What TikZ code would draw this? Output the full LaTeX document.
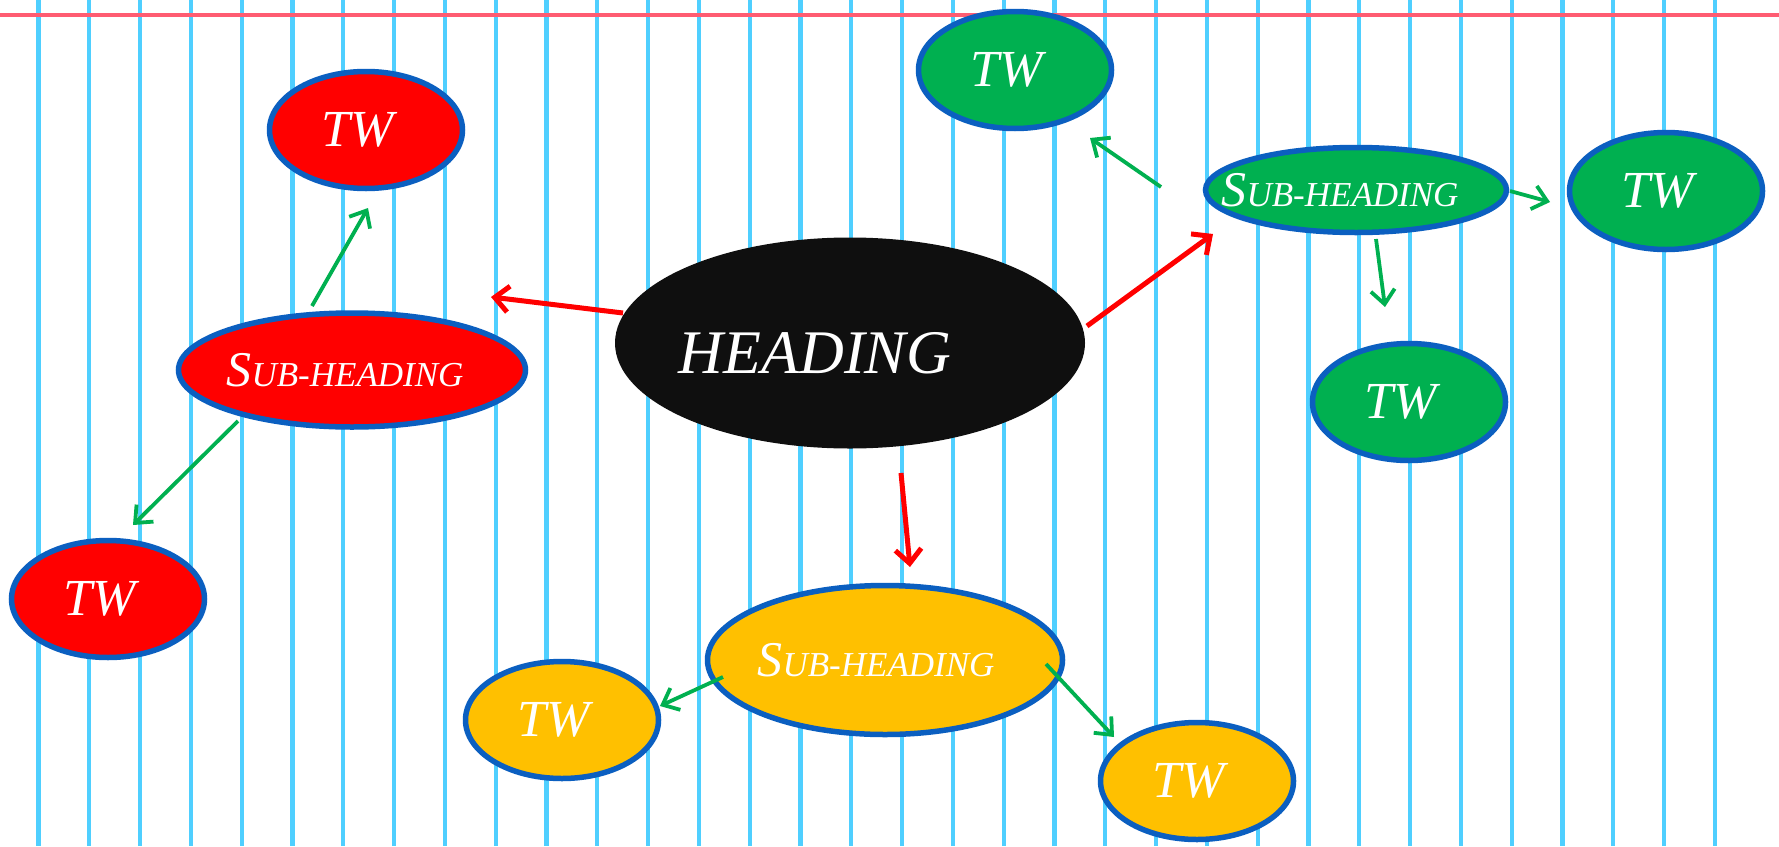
\documentclass[tikz,border=0pt]{standalone}
\usepackage{fontspec}
\setmainfont{Liberation Serif}
\usetikzlibrary{shapes.geometric,arrows.meta}
\definecolor{gridblue}{HTML}{4FCFFF}
\definecolor{topred}{HTML}{FF5C72}
\definecolor{rimblue}{HTML}{0B5FC0}
\definecolor{mmred}{HTML}{FF0000}
\definecolor{mmgreen}{HTML}{00B050}
\definecolor{mmyellow}{HTML}{FFC000}
\definecolor{headblack}{HTML}{0F0F0F}
\newcommand\subhd[1]{\makebox[0pt]{\hspace*{#1}\fontsize{50}{50}\selectfont S\fontsize{35}{35}\selectfont UB-HEADING}}
\newcommand\twtxt{\makebox[0pt]{\hspace*{-16pt}TW}}
\tikzset{
  gridline/.style={draw=gridblue, line width=4.2pt},
  topline/.style={draw=topred, line width=4.8pt},
  bubble/.style n args={3}{ellipse, draw=rimblue, line width=5.5pt, fill=#1,
    minimum width=#2, minimum height=#3, inner sep=0pt, text=white,
    font=\itshape\fontsize{52}{52}\selectfont},
  twnode/.style={bubble={#1}{193pt}{117pt}},
  headnode/.style={ellipse, fill=headblack, minimum width=470pt, minimum height=211pt, inner sep=0pt},
  mainarrow/.style={draw=mmred, line width=5pt, -{Straight Barb[length=14pt,width=26pt,line width=5pt]}},
  subarrow/.style={draw=mmgreen, line width=3.8pt, -{Straight Barb[length=14pt,width=24pt,line width=3.8pt]}},
}
\begin{document}
\begin{tikzpicture}[x=1pt,y=-1pt]
\useasboundingbox (0,0) rectangle (1779,846);
\fill[white] (0,0) rectangle (1779,846);
\foreach \i in {0,...,33} \draw[gridline] ({38.5+50.8*\i},0) -- ({38.5+50.8*\i},846);
\draw[topline] (0,15) -- (1779,15);

% heading
\node[headnode, label={[text=white, font=\itshape\fontsize{62}{62}\selectfont, xshift=-35pt, yshift=-10pt]center:HEADING}] (head) at (850,343) {};

% sub-headings
\node[bubble={mmred}{347pt}{114pt}] (rsub) at (352,370) {\subhd{-14pt}};
\node[bubble={mmgreen}{301pt}{85pt}] (gsub) at (1356,190) {\subhd{-32pt}};
\node[bubble={mmyellow}{355pt}{149pt}] (ysub) at (885,660) {\subhd{-18pt}};

% TW bubbles
\node[twnode=mmred] (rtw1) at (366,130) {\twtxt};
\node[twnode=mmred] (rtw2) at (108,599) {\twtxt};
\node[twnode=mmgreen] (gtw1) at (1015,70) {\twtxt};
\node[twnode=mmgreen] (gtw2) at (1666,191) {\twtxt};
\node[twnode=mmgreen] (gtw3) at (1409,402) {\twtxt};
\node[twnode=mmyellow] (ytw1) at (562,720) {\twtxt};
\node[twnode=mmyellow] (ytw2) at (1197,781) {\twtxt};

% red arrows
\draw[mainarrow] ([shift={(-227,-30)}]head.center) -- ([shift={(139,-73)}]rsub.center);
\draw[mainarrow] ([shift={(237,-17)}]head.center) -- ([shift={(-143,44)}]gsub.center);
\draw[mainarrow] ([shift={(51,130)}]head.center) -- ([shift={(25,-93)}]ysub.center);

% green arrows
\draw[subarrow] ([shift={(-40,-64)}]rsub.center) -- ([shift={(2,78)}]rtw1.center);
\draw[subarrow] ([shift={(-114,51)}]rsub.center) -- ([shift={(25,-74)}]rtw2.center);
\draw[subarrow] ([shift={(-195,-3)}]gsub.center) -- ([shift={(75,68)}]gtw1.center);
\draw[subarrow] ([shift={(154,1)}]gsub.center) -- ([shift={(-116,11)}]gtw2.center);
\draw[subarrow] ([shift={(20,49)}]gsub.center) -- ([shift={(-24,-95)}]gtw3.center);
\draw[subarrow] ([shift={(-162,17)}]ysub.center) -- ([shift={(98,-14)}]ytw1.center);
\draw[subarrow] ([shift={(161,4)}]ysub.center) -- ([shift={(-83,-44)}]ytw2.center);
\end{tikzpicture}
\end{document}
